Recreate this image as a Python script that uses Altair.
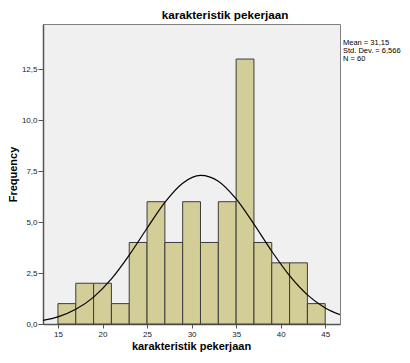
import altair as alt
import pandas as pd

# Histogram bins (bin start, bin end, frequency)
bin_start = [15, 17, 19, 21, 23, 25, 27, 29, 31, 33, 35, 37, 39, 41, 43]
bin_end = [17, 19, 21, 23, 25, 27, 29, 31, 33, 35, 37, 39, 41, 43, 45]
freq = [1, 2, 2, 1, 4, 6, 4, 6, 4, 6, 13, 4, 3, 3, 1]

# Normal curve
curve_x = [13.32, 15, 17, 19, 21, 23, 25, 27, 29, 31, 33, 35, 37, 39, 41, 43, 45, 46.66]
curve_y = [0.18, 0.35, 0.72, 1.32, 2.21, 3.38, 4.70, 5.97, 6.91, 7.29, 7.01, 6.14, 4.90, 3.57, 2.37, 1.43, 0.79, 0.46]

x_ticks = [15, 20, 25, 30, 35, 40, 45]
y_ticks = [0, 2.5, 5, 7.5, 10, 12.5]

title_text = "karakteristik pekerjaan"
x_title = "karakteristik pekerjaan"
y_title = "Frequency"
stats_text = "Mean = 31,15\nStd. Dev. = 6,566\nN = 60"

bars_df = pd.DataFrame({"start": bin_start, "end": bin_end, "freq": freq})
curve_df = pd.DataFrame({"x": curve_x, "y": curve_y})

FONT = "Liberation Sans"

xscale = alt.Scale(domain=[13.32, 46.66], nice=False, zero=False)
yscale = alt.Scale(domain=[0, 14.72], nice=False)

x_axis = alt.Axis(
    title=None, values=x_ticks, grid=False, tickSize=4, labelPadding=2,
    labelFontSize=8, labelFont=FONT, labelColor="#222",
    domainColor="#555", domainWidth=1.5, tickColor="#555", labelFlush=False,
)
y_axis = alt.Axis(
    title=y_title, values=y_ticks, grid=False, tickSize=5, labelPadding=1,
    labelFontSize=8, labelFont=FONT, labelColor="#222", titleFont=FONT,
    titleFontSize=11, titleFontWeight="bold", titleColor="#000", titlePadding=3,
    domainColor="#555", domainWidth=1.5, tickColor="#555",
    labelExpr="replace(format(datum.value, '.1f'), '.', ',')",
)

bars = alt.Chart(bars_df).mark_bar(
    fill="#D3CE97", stroke="#3c3c3c", strokeWidth=1, opacity=1
).encode(
    x=alt.X("start:Q", scale=xscale, axis=x_axis),
    x2="end:Q",
    y=alt.Y("freq:Q", scale=yscale, axis=y_axis),
    y2=alt.datum(0),
)

curve = alt.Chart(curve_df).mark_line(
    color="#000", strokeWidth=1.2, interpolate="monotone", clip=True
).encode(
    x=alt.X("x:Q", scale=xscale),
    y=alt.Y("y:Q", scale=yscale),
)

title = alt.Chart(pd.DataFrame({"t": [title_text]})).mark_text(
    font=FONT, fontSize=11.7, fontWeight="bold", color="#000",
    align="center", baseline="middle",
).encode(x=alt.value(182), y=alt.value(-9), text="t:N")

xtitle = alt.Chart(pd.DataFrame({"t": [x_title]})).mark_text(
    font=FONT, fontSize=11, fontWeight="bold", color="#000",
    align="center", baseline="middle",
).encode(x=alt.value(148.5), y=alt.value(323), text="t:N")

stats = alt.Chart(pd.DataFrame({"t": [stats_text]})).mark_text(
    font=FONT, fontSize=7.5, color="#000", align="left", baseline="top",
    lineBreak="\n", lineHeight=8,
).encode(x=alt.value(300), y=alt.value(15), text="t:N")

chart = alt.layer(bars, curve, title, xtitle, stats).properties(
    width=297, height=300,
    autosize=alt.AutoSizeParams(type="none"),
    padding={"left": 35, "top": 16, "right": 62, "bottom": 31},
    background="#ffffff",
).configure_view(
    fill="#F0F0F0", stroke="#808080", strokeWidth=1
)

chart.save("out.html", embed_options={"renderer": "svg", "actions": False})
